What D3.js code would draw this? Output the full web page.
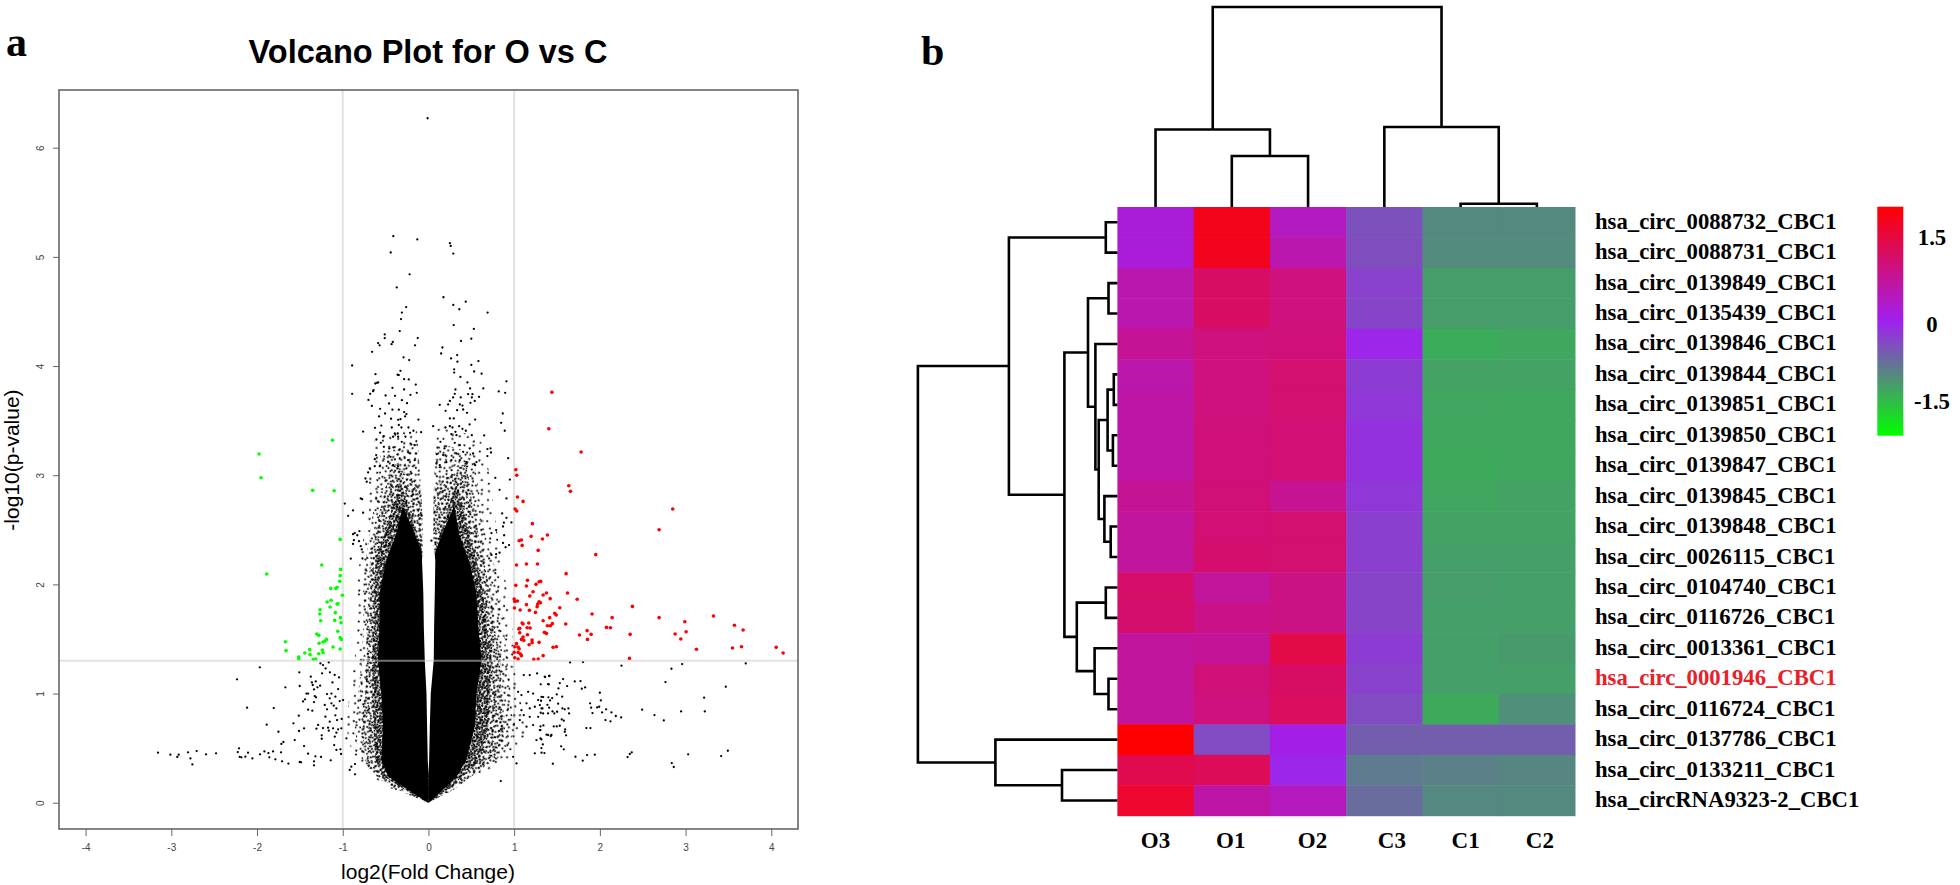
<!DOCTYPE html>
<html><head><meta charset="utf-8">
<script src="https://cdn.jsdelivr.net/npm/d3@7"></script>
<style>html,body{margin:0;padding:0;background:#fff;overflow:hidden}svg{display:block}</style>
</head><body><svg id="c" width="1960" height="885"></svg>
<script>
// ---------- Volcano data (log2 fold change, -log10 p) ----------
const xTicks = [-4,-3,-2,-1,0,1,2,3,4];
const yTicks = [0,1,2,3,4,5,6];
const fcCut = [-1,1];
const pCut = 1.3;
const greenPoints = [[-1.12,3.32],[-1.976,3.194],[-1.953,2.977],[-1.35,2.861],[-1.10,2.858],[-1.03,2.412],[-1.245,2.177],[-1.887,2.095],[-1.024,2.137],[-1.03,2.08],[-1.035,2.028],[-1.066,1.973],[-1.08,1.963],[-1.14,1.963],[-1.004,1.90],[-1.136,1.854],[-1.183,1.838],[-1.148,1.793],[-1.066,1.82],[-1.055,1.823],[-1.264,1.768],[-1.268,1.729],[-1.086,1.741],[-1.257,1.667],[-1.094,1.67],[-1.027,1.695],[-1.02,1.649],[-1.058,1.57],[-1.303,1.545],[-1.28,1.533],[-1.03,1.512],[-1.016,1.496],[-1.19,1.496],[-1.206,1.481],[-1.23,1.472],[-1.276,1.46],[-1.113,1.426],[-1.669,1.475],[-1.661,1.393],[-1.03,1.408],[-1.238,1.399],[-1.23,1.374],[-1.385,1.402],[-1.443,1.371],[-1.381,1.356],[-1.28,1.365],[-1.513,1.335],[-1.513,1.316],[-1.315,1.316],[-1.342,1.313]];
const redPoints = [[1.44,3.76],[1.404,3.425],[1.781,3.212],[1.019,3.05],[1.03,3.0],[1.637,2.903],[1.657,2.852],[1.038,2.80],[1.104,2.76],[1.011,2.69],[1.03,2.672],[2.85,2.69],[2.691,2.50],[1.213,2.556],[1.198,2.44],[1.388,2.452],[1.33,2.415],[1.085,2.406],[1.058,2.40],[1.093,2.357],[1.28,2.311],[1.952,2.272],[1.027,2.177],[1.143,2.186],[1.272,2.186],[1.606,2.098],[1.019,1.991],[1.155,2.037],[1.143,1.985],[1.256,2.0],[1.291,2.024],[1.31,2.027],[1.22,1.933],[1.182,1.893],[1.338,1.902],[1.377,1.921],[1.622,1.921],[1.42,1.869],[1.735,1.863],[1.0,1.866],[1.007,1.844],[1.038,1.847],[1.143,1.814],[1.003,1.783],[1.07,1.765],[1.178,1.762],[1.248,1.743],[1.268,1.796],[1.291,1.841],[1.307,1.832],[1.275,1.82],[1.532,1.786],[1.474,1.734],[1.49,1.719],[1.909,1.728],[2.38,1.798],[1.415,1.695],[2.143,1.695],[2.691,1.695],[3.325,1.71],[1.338,1.667],[2.991,1.658],[3.57,1.625],[1.093,1.646],[1.104,1.637],[1.17,1.646],[1.602,1.637],[1.388,1.621],[1.423,1.621],[1.446,1.64],[1.054,1.591],[1.065,1.597],[1.151,1.603],[1.186,1.60],[2.077,1.606],[2.123,1.603],[3.671,1.582],[1.851,1.576],[3.006,1.566],[1.353,1.56],[1.377,1.551],[1.065,1.557],[2.878,1.545],[1.762,1.536],[1.898,1.542],[2.353,1.542],[1.155,1.539],[2.944,1.499],[1.855,1.496],[1.104,1.518],[1.085,1.496],[1.112,1.487],[1.209,1.49],[1.209,1.466],[1.291,1.469],[1.174,1.447],[1.027,1.457],[1.007,1.429],[1.046,1.426],[1.058,1.41],[1.454,1.423],[1.493,1.429],[4.057,1.423],[3.547,1.417],[3.652,1.429],[3.127,1.405],[4.138,1.371],[1.0,1.377],[1.046,1.377],[1.073,1.362],[1.085,1.347],[1.338,1.347],[1.007,1.328],[1.046,1.316],[1.229,1.313],[1.28,1.316],[2.345,1.322]];
const blackTop = [[-0.01,6.27],[-0.41,5.19],[-0.13,5.16],[0.25,5.125],[0.26,5.10],[-0.44,5.04],[0.29,5.03],[-0.22,4.84],[-0.37,4.72],[0.175,4.63],[0.29,4.56],[0.435,4.59],[0.36,4.52],[0.69,4.49],[-0.26,4.54],[-0.31,4.49],[-0.32,4.43],[0.295,4.375],[0.53,4.34],[-0.335,4.32],[-0.51,4.29],[-0.51,4.256],[-0.125,4.256],[-0.416,4.22],[-0.587,4.21],[-0.43,4.20],[-0.57,4.19],[-0.156,4.19],[0.38,4.23],[0.50,4.25],[0.163,4.17],[0.148,4.115],[-0.657,4.13],[0.335,4.10],[0.264,4.07],[0.338,4.04],[0.583,4.045],[-0.29,4.08],[-0.225,4.055],[-0.89,4.005],[0.50,4.01],[0.30,3.97],[0.30,3.94],[0.533,3.95],[0.62,3.93],[-0.327,3.956],[-0.618,3.925],[-0.36,3.92],[-0.346,3.917],[-0.284,3.88],[-0.23,3.877],[0.373,3.90],[0.455,3.85],[0.91,3.86],[-0.62,3.84],[-0.60,3.846],[-0.587,3.85],[-0.148,3.83],[-0.42,3.80],[-0.284,3.785],[0.315,3.785],[0.486,3.795],[0.64,3.795],[-0.64,3.78]];
const blackUpper = [[-0.89,3.745],[-0.68,3.745],[-0.646,3.77],[-0.50,3.73],[-0.39,3.727],[-0.70,3.69],[-0.31,3.687],[-0.25,3.66],[-0.46,3.657],[-0.21,3.736],[-0.136,3.755],[-0.66,3.635],[-0.564,3.608],[-0.42,3.60],[-0.346,3.60],[-0.506,3.565],[-0.576,3.538],[-0.284,3.578],[-0.257,3.56],[-0.272,3.538],[-0.327,3.513],[-0.354,3.507],[-0.436,3.517],[-0.117,3.51],[0.132,3.645],[0.23,3.648],[0.20,3.59],[0.307,3.745],[0.288,3.712],[0.25,3.68],[0.377,3.712],[0.463,3.742],[0.513,3.742],[0.506,3.712],[0.49,3.663],[0.54,3.68],[0.59,3.718],[0.82,3.767],[0.895,3.755],[0.366,3.648],[0.397,3.638],[0.405,3.602],[0.335,3.596],[0.45,3.571],[0.545,3.51],[0.25,3.52],[0.295,3.52],[0.867,3.565],[0.848,3.48],[0.89,3.407],[0.48,3.465],[0.055,3.449],[0.198,3.437],[0.25,3.449],[0.28,3.437],[0.358,3.449],[0.397,3.425],[0.436,3.407],[0.315,3.397],[-0.762,3.40],[-0.624,3.434],[-0.55,3.455],[-0.564,3.39],[-0.428,3.437],[-0.346,3.46],[-0.315,3.437],[-0.233,3.437],[-0.175,3.407],[-0.086,3.394],[-0.214,3.388],[-0.358,3.382],[-0.393,3.382],[-0.521,3.358],[-0.607,3.327],[-0.354,3.352],[-0.412,3.352],[-0.268,3.352],[-0.556,3.297],[-0.311,3.306],[-0.21,3.29],[-0.16,3.275],[-0.52,3.26],[-0.457,3.245],[-0.408,3.254],[-0.335,3.236],[-0.61,3.184],[-0.237,3.21],[0.14,3.306],[0.268,3.376],[0.327,3.367],[0.506,3.367],[0.65,3.364],[0.307,3.297],[0.366,3.275],[0.187,3.245],[0.097,3.193],[0.171,3.184],[0.327,3.199],[0.405,3.214],[0.482,3.245],[0.521,3.199],[0.688,3.239],[0.724,3.245],[0.73,3.208],[0.688,3.175],[0.93,3.156],[0.093,3.107],[0.132,3.092],[0.21,3.12],[0.268,3.138],[0.366,3.138],[0.443,3.12],[0.56,3.12],[0.545,3.092],[-0.443,3.168],[-0.335,3.153],[-0.237,3.138],[-0.16,3.138],[-0.626,3.147],[-0.626,3.083],[-0.568,3.083],[-0.47,3.123],[-0.412,3.092],[-0.257,3.062],[-0.354,3.083],[-0.685,3.062],[-0.704,3.025],[-0.198,3.016],[-0.976,2.74],[-0.88,2.677],[-0.937,2.628],[-0.762,2.656],[-0.735,2.97],[-0.72,2.94],[-0.774,2.78],[-0.79,2.787],[0.95,2.96],[0.78,2.976],[0.83,2.866],[0.91,2.787],[0.86,2.65],[0.91,2.61],[0.88,2.565],[0.968,2.567],[0.87,2.53],[-0.805,2.488],[-0.88,2.46],[-0.86,2.47],[-0.83,2.45],[-0.87,2.405],[-0.81,2.396],[-0.88,2.37],[-0.79,2.35],[-0.778,2.32],[0.735,2.47],[0.79,2.497],[0.883,2.45],[0.87,2.38],[0.94,2.36],[0.90,2.34],[0.83,2.29],[0.79,2.277],[0.735,2.27],[-0.906,2.235],[-0.77,2.237],[0.035,2.4],[-0.08,2.63]];
const blackLeft = [[-1.968,1.24],[-2.233,1.13],[-1.506,1.194],[-1.669,1.057],[-1.502,1.069],[-1.373,1.154],[-1.36,1.102],[-1.35,1.078],[-1.315,1.111],[-1.264,1.072],[-1.295,1.057],[-1.335,1.038],[-1.241,1.185],[-1.26,1.276],[-1.23,1.261],[-1.163,1.285],[-1.2,1.23],[-1.15,1.194],[-1.12,1.102],[-1.094,1.17],[-1.043,1.148],[-1.054,1.041],[-1.183,0.995],[-1.132,1.0],[-1.086,0.971],[-1.424,1.0],[-1.404,1.0],[-1.327,0.977],[-1.311,0.965],[-1.44,0.947],[-1.463,0.928],[-1.335,0.922],[-1.152,0.956],[-1.21,0.895],[-1.132,0.91],[-1.105,0.889],[-2.116,0.87],[-1.805,0.867],[-1.404,0.852],[-1.355,0.843],[-1.183,0.855],[-1.074,0.864],[-1.035,0.931],[-0.996,0.94],[-1.513,0.797],[-1.202,0.788],[-1.086,0.80],[-1.152,0.742],[-1.066,0.757],[-1.012,0.767],[-1.575,0.727],[-1.887,0.715],[-1.287,0.712],[-1.307,0.678],[-1.23,0.684],[-1.171,0.687],[-1.113,0.681],[-1.054,0.672],[-1.451,0.681],[-1.51,0.657],[-1.75,0.65],[-1.245,0.617],[-1.245,0.586],[-1.163,0.66],[-1.093,0.605],[-1.074,0.641],[-1.016,0.681],[-1.56,0.574],[-1.692,0.556],[-1.716,0.538],[-1.451,0.519],[-1.1,0.528],[-1.074,0.483],[-1.027,0.489],[-1.02,0.446],[-0.957,0.59],[-3.155,0.458],[-3.011,0.44],[-2.914,0.44],[-2.93,0.419],[-2.805,0.461],[-2.704,0.473],[-2.595,0.443],[-2.478,0.452],[-2.777,0.406],[-2.754,0.351],[-2.21,0.498],[-2.225,0.464],[-2.202,0.419],[-2.182,0.416],[-2.136,0.422],[-2.105,0.458],[-2.054,0.406],[-1.965,0.443],[-1.914,0.47],[-1.867,0.455],[-1.856,0.416],[-1.813,0.47],[-1.786,0.397],[-1.72,0.461],[-1.708,0.379],[-1.634,0.358],[-1.502,0.373],[-1.486,0.37],[-1.404,0.449],[-1.335,0.379],[-1.335,0.342],[-1.319,0.425],[-1.253,0.419],[-1.14,0.388],[-0.918,0.30],[-0.9,0.33],[-0.857,0.354],[-0.857,0.26]];
const blackRight = [[1.652,1.285],[1.804,1.288],[2.252,1.255],[2.835,1.227],[2.96,1.27],[3.702,1.276],[2.765,1.105],[3.469,1.062],[1.411,1.163],[1.361,1.151],[1.571,1.132],[1.532,1.096],[1.31,1.084],[1.404,1.084],[1.707,1.111],[1.774,1.114],[1.789,1.044],[1.828,1.056],[1.618,1.068],[1.517,1.047],[2.0,1.007],[1.497,0.992],[3.216,0.962],[1.338,0.968],[1.40,0.965],[1.443,0.958],[1.419,0.937],[1.314,0.934],[1.56,0.971],[2.011,0.937],[1.886,0.91],[1.898,0.87],[1.968,0.873],[1.992,0.879],[1.513,0.907],[1.388,0.897],[1.33,0.864],[1.408,0.87],[1.3,0.894],[1.563,0.864],[1.59,0.855],[1.633,0.864],[1.641,0.818],[1.447,0.836],[1.469,0.818],[1.501,0.833],[1.396,0.818],[1.31,0.824],[2.073,0.855],[2.026,0.827],[2.135,0.827],[1.914,0.821],[2.493,0.852],[2.948,0.836],[3.224,0.836],[2.637,0.803],[2.186,0.794],[2.248,0.781],[2.065,0.757],[2.124,0.745],[2.746,0.754],[1.555,0.763],[1.579,0.751],[1.341,0.708],[1.532,0.705],[1.462,0.699],[1.497,0.699],[1.307,0.699],[1.843,0.684],[1.89,0.684],[1.595,0.672],[1.591,0.65],[1.307,0.665],[1.377,0.623],[1.427,0.61],[1.606,0.617],[1.318,0.58],[1.334,0.534],[1.318,0.5],[1.548,0.516],[1.579,0.489],[1.353,0.455],[1.715,0.421],[1.851,0.436],[1.941,0.44],[2.372,0.461],[2.349,0.446],[2.323,0.418],[3.03,0.443],[3.493,0.476],[3.415,0.427],[1.8,0.385],[1.451,0.357],[2.839,0.363],[2.862,0.327],[1.112,1.169],[1.182,1.169],[1.268,1.184],[1.357,1.154],[1.408,1.16],[1.396,1.086],[1.046,1.016],[1.085,0.986],[1.163,1.016],[1.221,1.0],[1.28,0.94],[1.319,0.97],[1.144,0.91],[1.182,0.864],[1.085,0.848],[1.241,0.879],[1.319,0.864],[1.112,0.803],[1.182,0.787],[1.066,0.757],[1.28,0.787],[1.338,0.818],[1.221,0.711],[1.144,0.696],[1.3,0.665],[1.396,0.62],[1.435,0.62],[1.26,0.574],[1.307,0.589],[1.241,0.452],[1.319,0.458],[1.027,0.36],[0.988,0.42],[0.844,0.198]];
// Where tens of thousands of points merge, single dots cannot be read: the cloud is given by read density outlines.
const cloudSparse = [[-0.62,3.35],[-0.70,3.0],[-0.72,2.6],[-0.80,2.22],[-0.86,1.92],[-0.84,1.61],[-0.86,1.31],[-0.92,1.0],[-0.96,0.7],[-0.92,0.54],[-0.85,0.39],[-0.66,0.24],[-0.49,0.147],[0,0],[0.33,0.147],[0.56,0.24],[0.91,0.39],[1.12,0.54],[1.15,0.7],[1.05,1.0],[0.99,1.31],[0.98,1.61],[0.93,1.92],[0.85,2.22],[0.78,2.6],[0.72,3.0],[0.6,3.35],[0.1,3.45],[-0.1,3.45]];
const cloudMedium = [[-0.56,3.2],[-0.62,2.8],[-0.7,2.4],[-0.76,2.1],[-0.76,1.6],[-0.78,1.31],[-0.82,1.0],[-0.86,0.7],[-0.82,0.45],[-0.66,0.27],[-0.42,0.13],[0,0],[0.3,0.13],[0.52,0.27],[0.9,0.45],[1.02,0.7],[0.96,1.0],[0.92,1.31],[0.88,1.6],[0.8,2.1],[0.68,2.4],[0.6,2.8],[0.52,3.2],[0.1,3.3],[-0.1,3.3]];
const cloudDense = [[-0.42,3.12],[-0.56,2.7],[-0.68,2.25],[-0.70,1.92],[-0.72,1.61],[-0.72,1.31],[-0.74,1.0],[-0.78,0.7],[-0.74,0.39],[-0.6,0.24],[-0.36,0.12],[0,0],[0.3,0.12],[0.5,0.24],[0.8,0.39],[0.9,0.7],[0.85,1.0],[0.84,1.31],[0.78,1.61],[0.72,1.92],[0.64,2.25],[0.52,2.7],[0.44,3.12],[0.08,2.9],[-0.08,2.9]];
const cloudHeavy = [[-0.33,2.95],[-0.48,2.55],[-0.62,2.22],[-0.63,1.92],[-0.64,1.61],[-0.66,1.31],[-0.65,1.0],[-0.64,0.7],[-0.62,0.39],[-0.52,0.24],[-0.24,0.1],[0,0],[0.2,0.1],[0.4,0.24],[0.6,0.39],[0.7,0.7],[0.72,1.0],[0.74,1.31],[0.68,1.61],[0.64,1.92],[0.56,2.22],[0.44,2.55],[0.33,2.95],[0.15,2.5],[0.07,2.3],[-0.07,2.3],[-0.15,2.5]];
const coreLeft = [[-0.3,2.72],[-0.38,2.45],[-0.5,2.2],[-0.57,1.92],[-0.57,1.61],[-0.59,1.31],[-0.55,1.0],[-0.53,0.7],[-0.55,0.39],[-0.47,0.24],[-0.18,0.09],[0,0],[0,1.5],[-0.08,2.3],[-0.18,2.5]];
const coreRight = [[0.3,2.72],[0.18,2.5],[0.08,2.3],[0,1.5],[0,0],[0.13,0.09],[0.33,0.24],[0.44,0.39],[0.54,0.7],[0.56,1.0],[0.62,1.31],[0.58,1.61],[0.56,1.92],[0.48,2.2],[0.36,2.45]];
const gapP = [3.5,2.8,2.4,2.22,1.92,1.61,1.31,1.0,0.7,0.39,0.26];
const gapL = [-0.14,-0.08,-0.06,-0.075,-0.06,-0.054,-0.043,-0.023,-0.016,-0.008,0];
const gapR = [0.09,0.06,0.055,0.08,0.074,0.066,0.062,0.027,0.016,0.008,0];

// ---------- Heatmap data ----------
const rowNames = ["hsa_circ_0088732_CBC1","hsa_circ_0088731_CBC1","hsa_circ_0139849_CBC1","hsa_circ_0135439_CBC1","hsa_circ_0139846_CBC1","hsa_circ_0139844_CBC1","hsa_circ_0139851_CBC1","hsa_circ_0139850_CBC1","hsa_circ_0139847_CBC1","hsa_circ_0139845_CBC1","hsa_circ_0139848_CBC1","hsa_circ_0026115_CBC1","hsa_circ_0104740_CBC1","hsa_circ_0116726_CBC1","hsa_circ_0013361_CBC1","hsa_circ_0001946_CBC1","hsa_circ_0116724_CBC1","hsa_circ_0137786_CBC1","hsa_circ_0133211_CBC1","hsa_circRNA9323-2_CBC1"];
const highlightRow = "hsa_circ_0001946_CBC1";
const colNames = ["O3","O1","O2","C3","C1","C2"];
const matrix = [
[0.2,1.75,0.4,-0.43,-0.93,-0.93],
[0.2,1.72,0.53,-0.4,-0.95,-0.95],
[0.53,1.15,0.95,-0.3,-1.1,-1.1],
[0.53,1.15,0.95,-0.32,-1.1,-1.1],
[0.75,0.95,0.97,-0.05,-1.24,-1.2],
[0.57,0.95,1.05,-0.25,-1.15,-1.15],
[0.6,0.95,1.05,-0.2,-1.18,-1.2],
[0.6,0.97,1.02,-0.15,-1.2,-1.2],
[0.6,0.97,1.02,-0.15,-1.22,-1.2],
[0.75,1.0,0.78,-0.2,-1.18,-1.15],
[0.68,1.02,1.05,-0.27,-1.15,-1.15],
[0.68,1.08,1.05,-0.27,-1.12,-1.12],
[1.1,0.7,0.88,-0.32,-1.1,-1.12],
[1.08,0.85,0.88,-0.32,-1.12,-1.12],
[0.68,0.72,1.38,-0.25,-1.12,-1.08],
[0.68,0.98,1.15,-0.3,-1.12,-1.12],
[0.68,0.95,1.2,-0.38,-1.22,-0.98],
[1.97,-0.37,0.08,-0.55,-0.55,-0.55],
[1.33,1.25,-0.05,-0.8,-0.85,-0.9],
[1.6,0.6,0.42,-0.68,-0.92,-0.93]];
const colorLimit = 1.97;
const rampColors = ["#00ff00","#a020f0","#ff0000"];
const legendTicks = [1.5,0,-1.5];
// Dendrograms: [left, right, height]; a number >=0 is a leaf, "mN" refers to merge N.
const colMerges = [[4,5,0.165],[1,2,2.55],[0,"m1",3.875],[3,"m0",4],["m2","m3",10]];
const rowMerges = [[0,1,11.6],[2,3,8.9],[5,6,3.6],[7,8,4.5],["m2","m3",9.8],[10,11,6.7],[9,"m5",13],["m4","m6",18.7],[4,"m7",22],["m1","m8",29.4],[12,13,11.6],[15,16,8.9],[14,"m11",22.8],["m10","m12",40.6],["m9","m13",53],["m0","m14",108.5],[18,19,55.4],[17,"m16",122],["m15","m17",199.5]];

// ---------- Drawing ----------
const svg = d3.select("#c");
const sans = "'Liberation Sans',Arial,sans-serif", serif = "'Liberation Serif','Times New Roman',serif";
const defs = svg.append("defs");
function stipple(id, dots, size, rot){
  const k = size/28;
  const p = defs.append("pattern").attr("id",id).attr("patternUnits","userSpaceOnUse")
    .attr("width",size).attr("height",size).attr("patternTransform",`rotate(${rot})`);
  p.selectAll("circle").data(dots).join("circle").attr("cx",d=>d[0]*k).attr("cy",d=>d[1]*k).attr("r",1.05).attr("fill","#000");
}
const tileA = [[3,5],[14,2],[24,7],[9,13],[19,15],[27,18],[4,22],[13,25],[22,24]];
const tileB = tileA.concat([[8,3],[19,6],[1,11],[13,9],[24,13],[6,17],[15,19],[23,20],[9,26],[18,27],[27,27],[1,26],[11,21],[20,11]]);
stipple("sparse",tileA,22,17); stipple("medium",tileA,16,-23); stipple("dense",tileB,18,31); stipple("heavy",tileB,13,-11);

const box = {l:59,r:798,t:90,b:829};
const x = d3.scaleLinear().domain([-4,4]).range([85.6,771.3]);
const y = d3.scaleLinear().domain([0,6]).range([802.7,147.7]);
const g = svg.append("g");

fcCut.forEach(v=>g.append("line").attr("x1",x(v)).attr("x2",x(v)).attr("y1",box.t).attr("y2",box.b).attr("stroke","#e2e2e2").attr("stroke-width",2));

const ln = d3.line().x(d=>x(d[0])).y(d=>y(d[1]));
g.append("path").attr("d",ln(cloudSparse)+"Z").attr("fill","url(#sparse)");
g.append("path").attr("d",ln(cloudMedium)+"Z").attr("fill","url(#medium)");
g.append("path").attr("d",ln(cloudDense)+"Z").attr("fill","url(#dense)");
g.append("path").attr("d",ln(cloudHeavy)+"Z").attr("fill","url(#heavy)");
g.append("path").attr("d",ln(coreLeft)+"Z").attr("fill","#000");
g.append("path").attr("d",ln(coreRight)+"Z").attr("fill","#000");
g.append("path").attr("d",ln(gapP.map((p,i)=>[gapL[i],p]).concat(gapP.map((p,i)=>[gapR[i],p]).reverse()))+"Z").attr("fill","#fff");

const blackPoints = blackTop.concat(blackUpper,blackLeft,blackRight);
g.selectAll("circle.b").data(blackPoints).join("circle").attr("class","b").attr("cx",d=>x(d[0])).attr("cy",d=>y(d[1])).attr("r",1.15).attr("fill","#000");
g.selectAll("circle.g").data(greenPoints).join("circle").attr("class","g").attr("cx",d=>x(d[0])).attr("cy",d=>y(d[1])).attr("r",1.8).attr("fill","#00ff00");
g.selectAll("circle.r").data(redPoints).join("circle").attr("class","r").attr("cx",d=>x(d[0])).attr("cy",d=>y(d[1])).attr("r",1.8).attr("fill","#ff0000");

g.append("line").attr("x1",box.l).attr("x2",box.r).attr("y1",y(pCut)).attr("y2",y(pCut)).attr("stroke","#ccc").attr("stroke-width",2).attr("opacity",0.55);
g.append("rect").attr("x",box.l).attr("y",box.t).attr("width",box.r-box.l).attr("height",box.b-box.t).attr("fill","none").attr("stroke","#666").attr("stroke-width",1.6);

const xa = g.append("g").attr("transform",`translate(0,${box.b})`).call(d3.axisBottom(x).tickValues(xTicks).tickSize(7).tickPadding(8).tickFormat(d=>String(d)));
const ya = g.append("g").attr("transform",`translate(${box.l},0)`).call(d3.axisLeft(y).tickValues(yTicks).tickSize(6).tickPadding(9).tickFormat(d=>String(d)));
[xa,ya].forEach(a=>{a.select(".domain").remove();a.selectAll("line").attr("stroke","#666");a.selectAll("text").attr("font-family",sans).attr("font-size",10).attr("fill","#444");});
ya.selectAll(".tick text").attr("text-anchor","middle").attr("dy",0).attr("transform",function(){const xx=+d3.select(this).attr("x");return `rotate(-90 ${xx} 0)`;}).attr("dominant-baseline","auto");

const T=(px,py,s,size,fam,w,extra={})=>{const t=svg.append("text").attr("x",px).attr("y",py).text(s).attr("font-size",size).attr("font-family",fam).attr("font-weight",w).attr("fill",extra.fill||"#000");
  if(extra.anchor)t.attr("text-anchor",extra.anchor); if(extra.rot)t.attr("transform",`rotate(${extra.rot} ${px} ${py})`); return t;};
T(428,63,"Volcano Plot for O vs C",32.5,sans,"bold",{anchor:"middle"});
T(428,879,"log2(Fold Change)",21,sans,"normal",{anchor:"middle"});
T(19,460,"-log10(p-value)",21,sans,"normal",{anchor:"middle",rot:-90});
T(6,56,"a",42,serif,"bold");
T(921,65,"b",42,serif,"bold");

// Heatmap
const hm = {l:1117.4,r:1575,t:207,b:815.7};
const cx = d3.scaleBand().domain(d3.range(colNames.length)).range([hm.l,hm.r]);
const cy = d3.scaleBand().domain(d3.range(rowNames.length)).range([hm.t,hm.b]);
const color = d3.scaleLinear().domain([-colorLimit,0,colorLimit]).range(rampColors).interpolate(d3.interpolateRgb);
const cells = matrix.flatMap((r,i)=>r.map((v,j)=>({i,j,v})));
svg.append("g").selectAll("rect").data(cells).join("rect")
  .attr("x",d=>cx(d.j)).attr("y",d=>cy(d.i)).attr("width",cx.bandwidth()+0.5).attr("height",cy.bandwidth()+0.5).attr("fill",d=>color(d.v));

svg.append("g").selectAll("text").data(rowNames).join("text")
  .attr("x",1595).attr("y",(d,i)=>cy(i)+cy.bandwidth()/2+6.5).text(d=>d)
  .attr("font-family",serif).attr("font-weight","bold").attr("font-size",22.7)
  .attr("fill",d=>d===highlightRow?"#e8202a":"#000");
const colLabelShift = [0,-1,4.5,7.5,5,3];
svg.append("g").selectAll("text").data(colNames).join("text")
  .attr("x",(d,i)=>cx(i)+cx.bandwidth()/2+colLabelShift[i]).attr("y",848).text(d=>d).attr("text-anchor","middle")
  .attr("font-family",serif).attr("font-weight","bold").attr("font-size",23);

// Dendrograms
function tree(merges, pos, toLine){
  const node = merges.map(()=>null);
  const get = k => typeof k==="number" ? {c:pos(k),h:0} : node[+k.slice(1)];
  merges.forEach((m,i)=>{
    const a=get(m[0]), b=get(m[1]);
    toLine(a.c,a.h,b.c,b.h,m[2]);
    node[i]={c:(a.c+b.c)/2,h:m[2]};
  });
}
const dg = svg.append("g").attr("fill","none").attr("stroke","#000").attr("stroke-width",2.6).attr("stroke-linejoin","miter");
const colH = d3.scaleLinear().domain([0,10]).range([hm.t,7]);
tree(colMerges,k=>cx(k)+cx.bandwidth()/2,(a,ha,b,hb,h)=>{
  dg.append("path").attr("d",d3.line()([[a,colH(ha)],[a,colH(h)],[b,colH(h)],[b,colH(hb)]]));
});
const rowH = d3.scaleLinear().domain([0,199.5]).range([hm.l,917.9]);
tree(rowMerges,k=>cy(k)+cy.bandwidth()/2,(a,ha,b,hb,h)=>{
  dg.append("path").attr("d",d3.line()([[rowH(ha),a],[rowH(h),a],[rowH(h),b],[rowH(hb),b]]));
});

// Colour key
const lg = defs.append("linearGradient").attr("id","key").attr("x1",0).attr("x2",0).attr("y1",1).attr("y2",0);
rampColors.forEach((c,i)=>lg.append("stop").attr("offset",i/2).attr("stop-color",c));
svg.append("rect").attr("x",1877.3).attr("y",206.7).attr("width",26).attr("height",229).attr("fill","url(#key)");
const keyY = d3.scaleLinear().domain([-colorLimit,colorLimit]).range([435.7,206.7]);
svg.append("g").selectAll("text").data(legendTicks).join("text")
  .attr("x",1932).attr("y",d=>keyY(d)+(d>0?11:d<0?1:11)).text(d=>d===0?"0":d.toFixed(1)).attr("text-anchor","middle")
  .attr("font-family",serif).attr("font-weight","bold").attr("font-size",22.7);
</script></body></html>
